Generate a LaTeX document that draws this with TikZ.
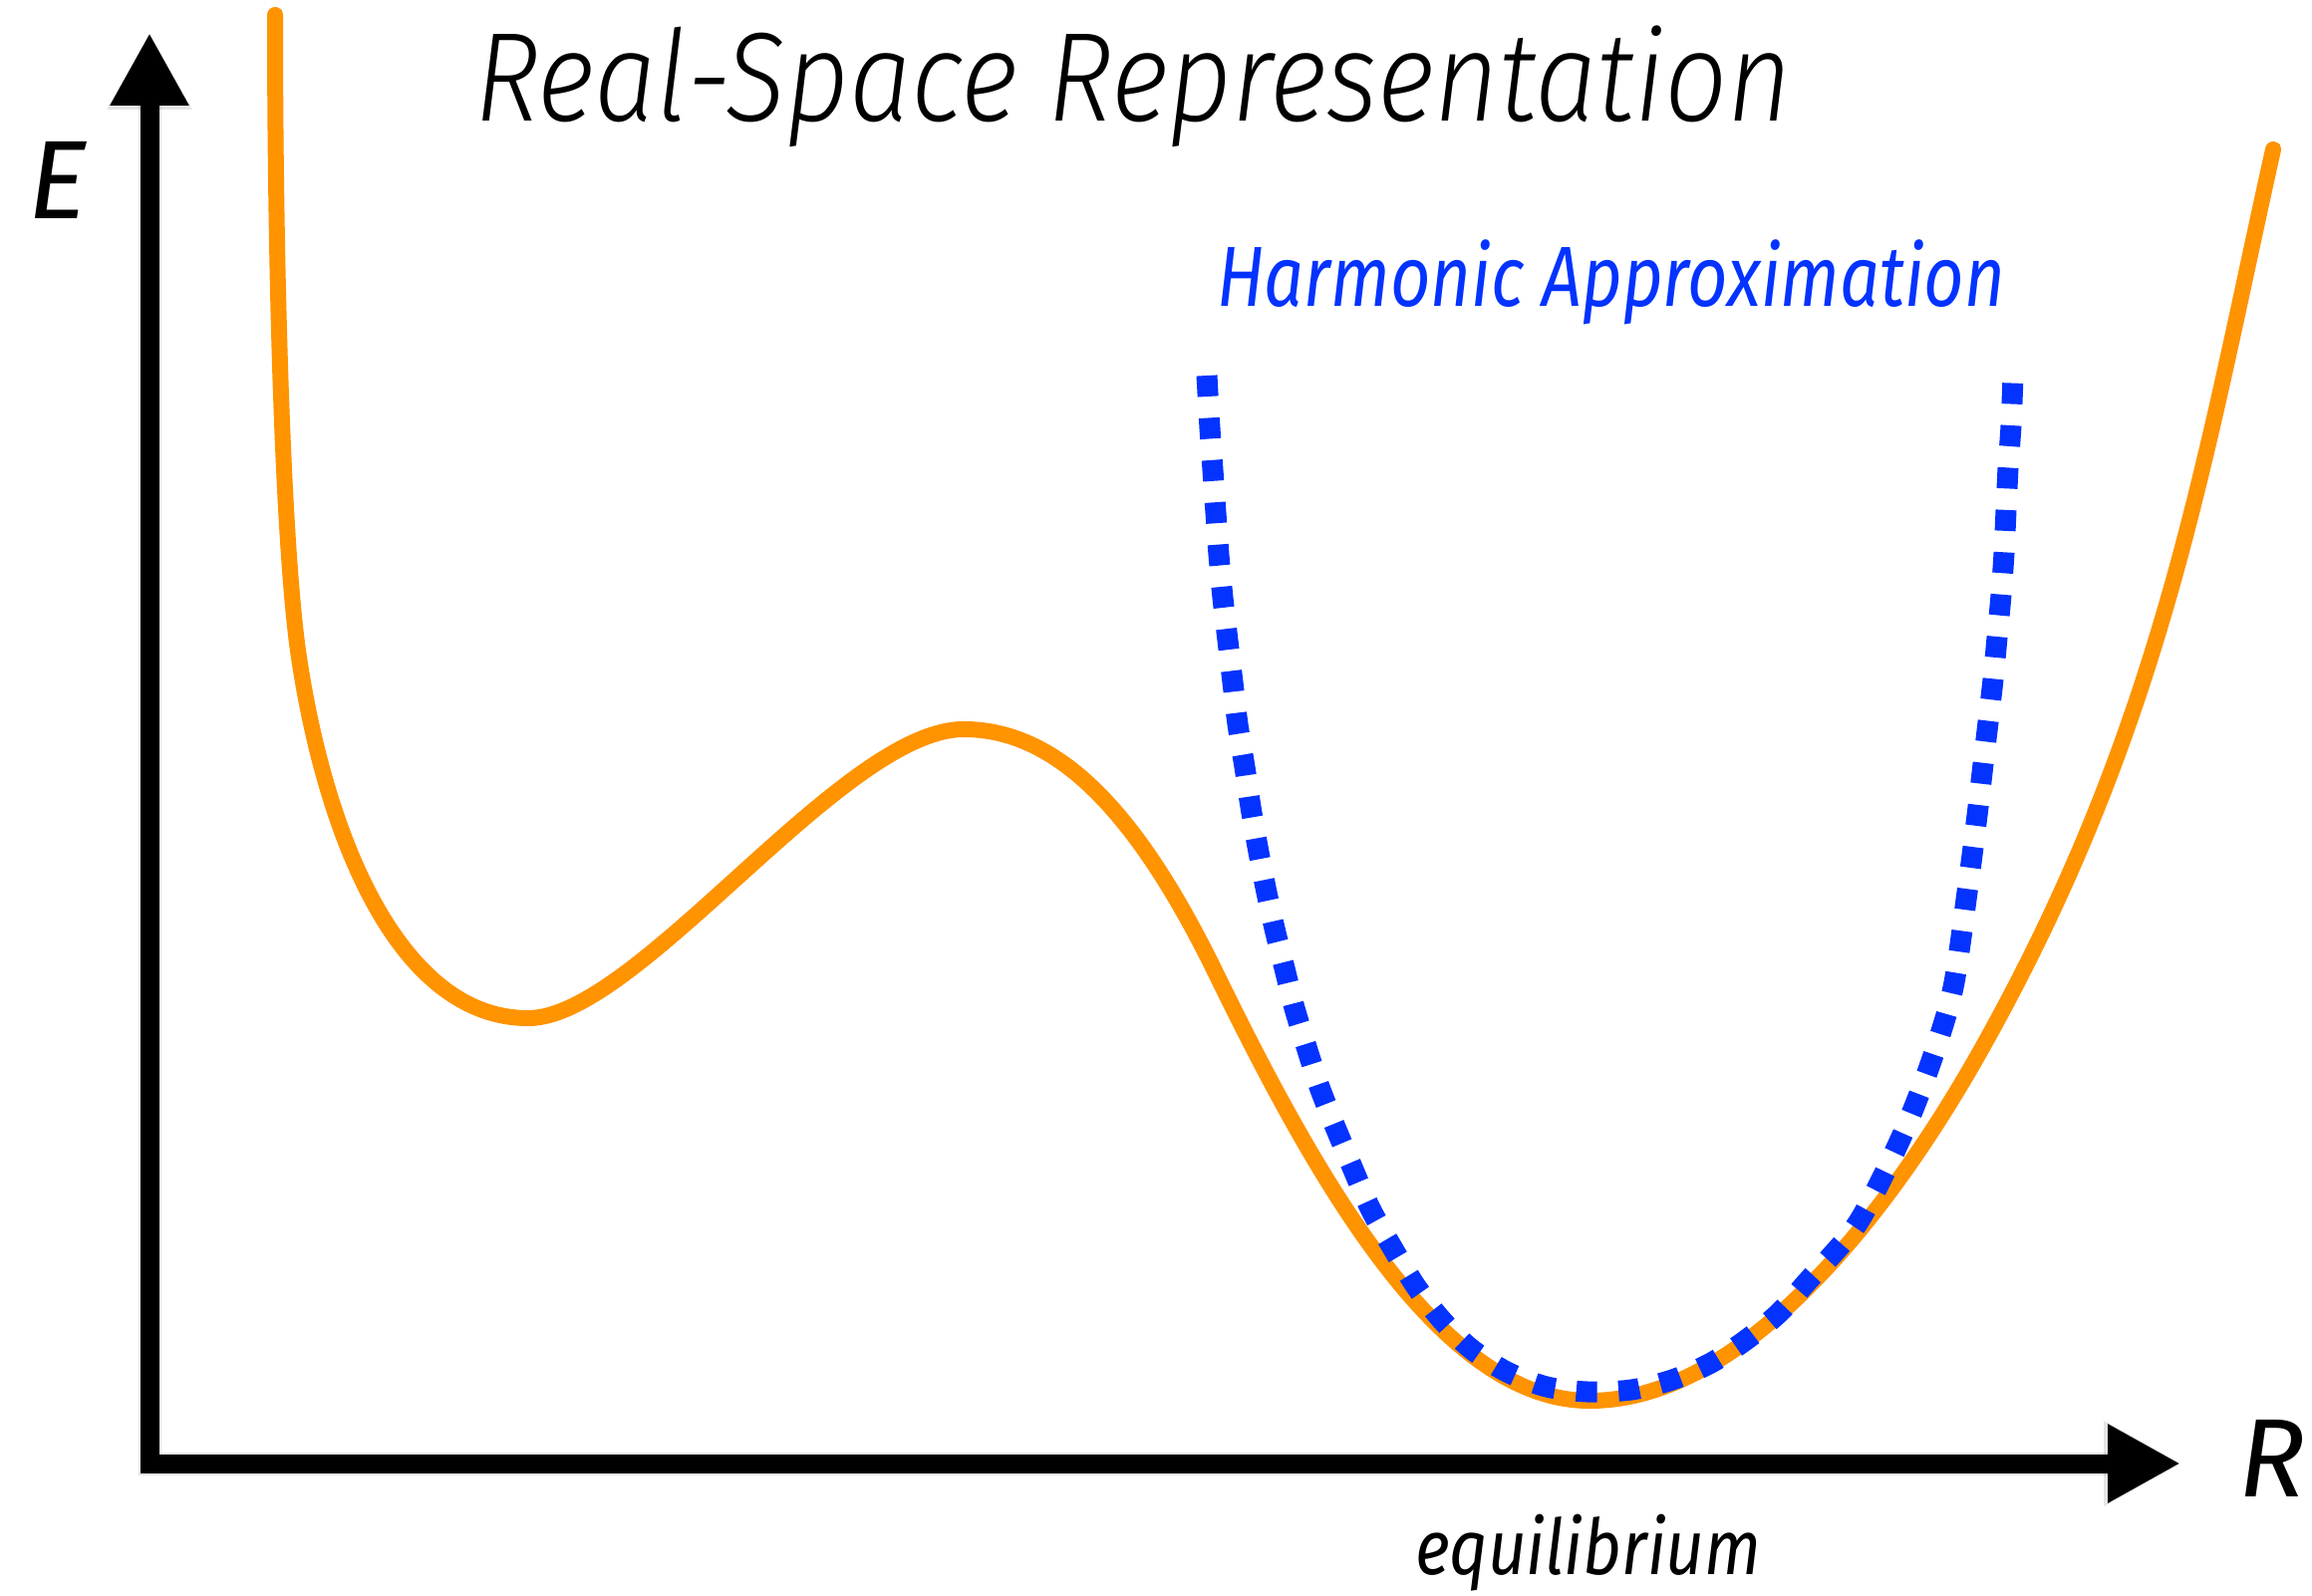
\documentclass[tikz,border=0pt]{standalone}
\usepackage{fontspec}
\usepackage{graphicx}
\setmainfont{Fira Sans}
\IfFontExistsTF{Fira Sans Light Italic}
  {\newfontfamily\titlefont{Fira Sans Light Italic}}
  {\newcommand\titlefont{\itshape}}
\usetikzlibrary{arrows.meta}
\definecolor{curveorange}{RGB}{255,147,0}
\definecolor{harmblue}{RGB}{4,51,255}
\newsavebox\fitref
\newsavebox\fittext
% #1 font, #2 text, #3 width, #4 reference glyph, #5 height of that glyph
\newcommand\fitto[5]{%
  \sbox\fitref{#1#4}\sbox\fittext{#1#2}%
  \pgfmathsetmacro\fitsx{#3/\the\wd\fittext}%
  \pgfmathsetmacro\fitsy{#5/\the\ht\fitref}%
  \scalebox{\fitsx}[\fitsy]{\usebox\fittext}}
\tikzset{
  axisline/.style={line width=19pt, line join=miter,
    {Triangle[length=73pt,width=74pt]}-{Triangle[length=73pt,width=74pt]}},
  axisshadow/.style={line width=23pt, line join=miter, black, opacity=0.10,
    {Triangle[length=77pt,width=80pt]}-{Triangle[length=77pt,width=80pt]}},
  labeltext/.style={inner sep=0pt, anchor=base west},
  potential/.style={curveorange, line cap=round, line join=round},
  harmonic/.style={harmblue, line width=21pt, line cap=butt,
    dash pattern=on 21pt off 21.5pt},
}
\begin{document}
\begin{tikzpicture}[x=1pt,y=-1pt]
\useasboundingbox (0,0) rectangle (2320,1602);
\fill[white] (0,0) rectangle (2320,1602);

% axes
\coordinate (ytip) at (150,33);
\coordinate (origin) at (150,1469);
\coordinate (xtip) at (2188,1469);
\begin{scope}[shift={(4,5)}]
  \draw[axisshadow] (ytip) -- (origin) -- (xtip);
\end{scope}
\draw[axisline] (ytip) -- (origin) -- (xtip);

% potential energy curve (sketchy orange)
\foreach \dx/\dy/\w/\op in {0/0/16/1, 5/-4/4/0.9, -5/4/3/0.85, 3/6/2.5/0.7, -3/-6/2/0.6} {
\draw[potential, line width=\w pt, opacity=\op, shift={(\dx,\dy)}]
  (276,15) .. controls (276,300) and (285,560) .. (300,660)
  .. controls (327,840) and (400,1022) .. (530,1022)
  .. controls (640,1022) and (845,732) .. (967,732)
  .. controls (1060,732) and (1140,813) .. (1220,977)
  .. controls (1320,1182) and (1445,1406) .. (1595,1406)
  .. controls (1745,1406) and (1890,1229) .. (1990,1050)
  .. controls (2170,728) and (2211,465) .. (2281,150);
}

% harmonic approximation (blue dotted)
\draw[harmonic] plot[smooth, tension=0.5] coordinates {
  (1211,377) (1214,430) (1217,472) (1220,515) (1223,557) (1227,600)
  (1232,643) (1237,685) (1242,727) (1249,770) (1255,810) (1262,850)
  (1270,891) (1279,932) (1289,972) (1299,1012) (1311,1051) (1324,1091)
  (1339,1129) (1355,1167) (1375,1213) (1397,1252) (1420,1290)
  (1445,1323) (1475,1353) (1512,1377)
  (1552,1392) (1593,1397) (1637,1395) (1678,1385) (1717,1368)
  (1752,1345) (1785,1318) (1813,1287) (1864,1228) (1909,1139)
  (1938,1065) (1960,991) (1975,888) (1980,850) (1985,810) (1990,767)
  (1995,725) (2000,682) (2004,640) (2008,597) (2011,555) (2013,512)
  (2015,470) (2018,427) (2020,377)};

% texts
\node[labeltext] (title) at (476,122)
  {\fitto{\titlefont\fontsize{100}{100}\selectfont}{Real-Space Representation}{1322pt}{R}{87pt}};
\node[labeltext, text=harmblue] (harmlabel) at (1221,308)
  {\fitto{\itshape\fontsize{60}{60}\selectfont}{Harmonic Approximation}{791pt}{H}{59pt}};
\node[labeltext] (eqlabel) at (1420,1580)
  {\fitto{\itshape\fontsize{50}{50}\selectfont}{equilibrium}{347pt}{l}{58pt}};
\node[inner sep=0pt, anchor=base] (Elabel) at (58,220)
  {\resizebox{!}{77pt}{\itshape E}};
\node[inner sep=0pt, anchor=base] (Rlabel) at (2280,1502)
  {\resizebox{!}{77pt}{\itshape R}};
\end{tikzpicture}
\end{document}
